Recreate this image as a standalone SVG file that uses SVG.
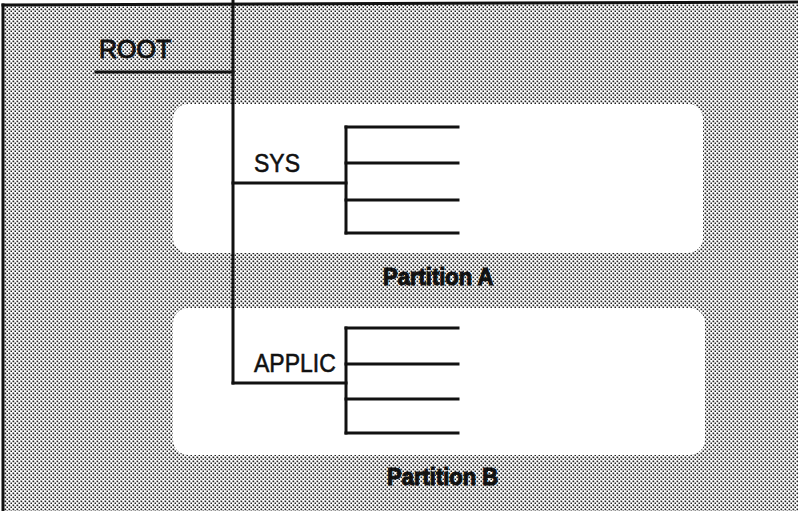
<svg xmlns="http://www.w3.org/2000/svg" width="798" height="511" viewBox="0 0 798 511">
<defs>
<pattern id="dots" width="4" height="4" patternUnits="userSpaceOnUse">
<rect width="4" height="4" fill="#ffffff"/>
<rect x="0.5" y="0.5" width="1.7" height="1.7" fill="#222"/>
<rect x="2.5" y="2.5" width="1.7" height="1.7" fill="#222"/>
</pattern>
</defs>
<style>
.ln{stroke:#111;stroke-width:3;fill:none;stroke-linecap:square}
.lbl{font-family:"Liberation Sans",Arial,sans-serif;font-size:23px;fill:#111;stroke:#111;stroke-width:0.5}
.root{font-size:25px;stroke-width:0.9}
.part{font-family:"Liberation Sans",Arial,sans-serif;font-size:22px;font-weight:bold;fill:#111;stroke:#111;stroke-width:1}
.box{fill:#ffffff}
</style>
<rect x="3" y="4" width="795" height="507" fill="url(#dots)"/>
<g id="frame">
<line x1="3" y1="5" x2="798" y2="2" class="ln"/>
<line x1="3" y1="5" x2="3" y2="511" class="ln"/>
</g>
<g id="partitionA">
<rect class="box" x="173" y="104" width="530" height="149" rx="15"/>
<text class="part" transform="translate(383,285) scale(1,1.05)">Partition A</text>
</g>
<g id="partitionB">
<rect class="box" x="173" y="308" width="532" height="147" rx="15"/>
<text class="part" transform="translate(387,485) scale(1,1.05)">Partition B</text>
</g>
<g id="root">
<text class="lbl root" transform="translate(99,58) scale(1,1.05)">ROOT</text>
</g>
<g id="sys">
<text class="lbl" transform="translate(254,172) scale(1,1.12)">SYS</text>
</g>
<g id="applic">
<text class="lbl" transform="translate(254,372) scale(1,1.12)">APPLIC</text>
</g>
<g id="connectors">
<line class="ln" x1="233" y1="0" x2="233" y2="383"/>
<line class="ln" x1="96" y1="72" x2="233" y2="72"/>
<line class="ln" x1="233" y1="183" x2="346" y2="183"/>
<line class="ln" x1="346" y1="127" x2="346" y2="233"/>
<line class="ln" x1="346" y1="127" x2="458" y2="127"/>
<line class="ln" x1="346" y1="163" x2="458" y2="163"/>
<line class="ln" x1="346" y1="200" x2="458" y2="200"/>
<line class="ln" x1="346" y1="233" x2="458" y2="233"/>
<line class="ln" x1="233" y1="383" x2="346" y2="383"/>
<line class="ln" x1="346" y1="328" x2="346" y2="433"/>
<line class="ln" x1="346" y1="328" x2="458" y2="328"/>
<line class="ln" x1="346" y1="364" x2="458" y2="364"/>
<line class="ln" x1="346" y1="399" x2="458" y2="399"/>
<line class="ln" x1="346" y1="433" x2="458" y2="433"/>
</g>
</svg>
